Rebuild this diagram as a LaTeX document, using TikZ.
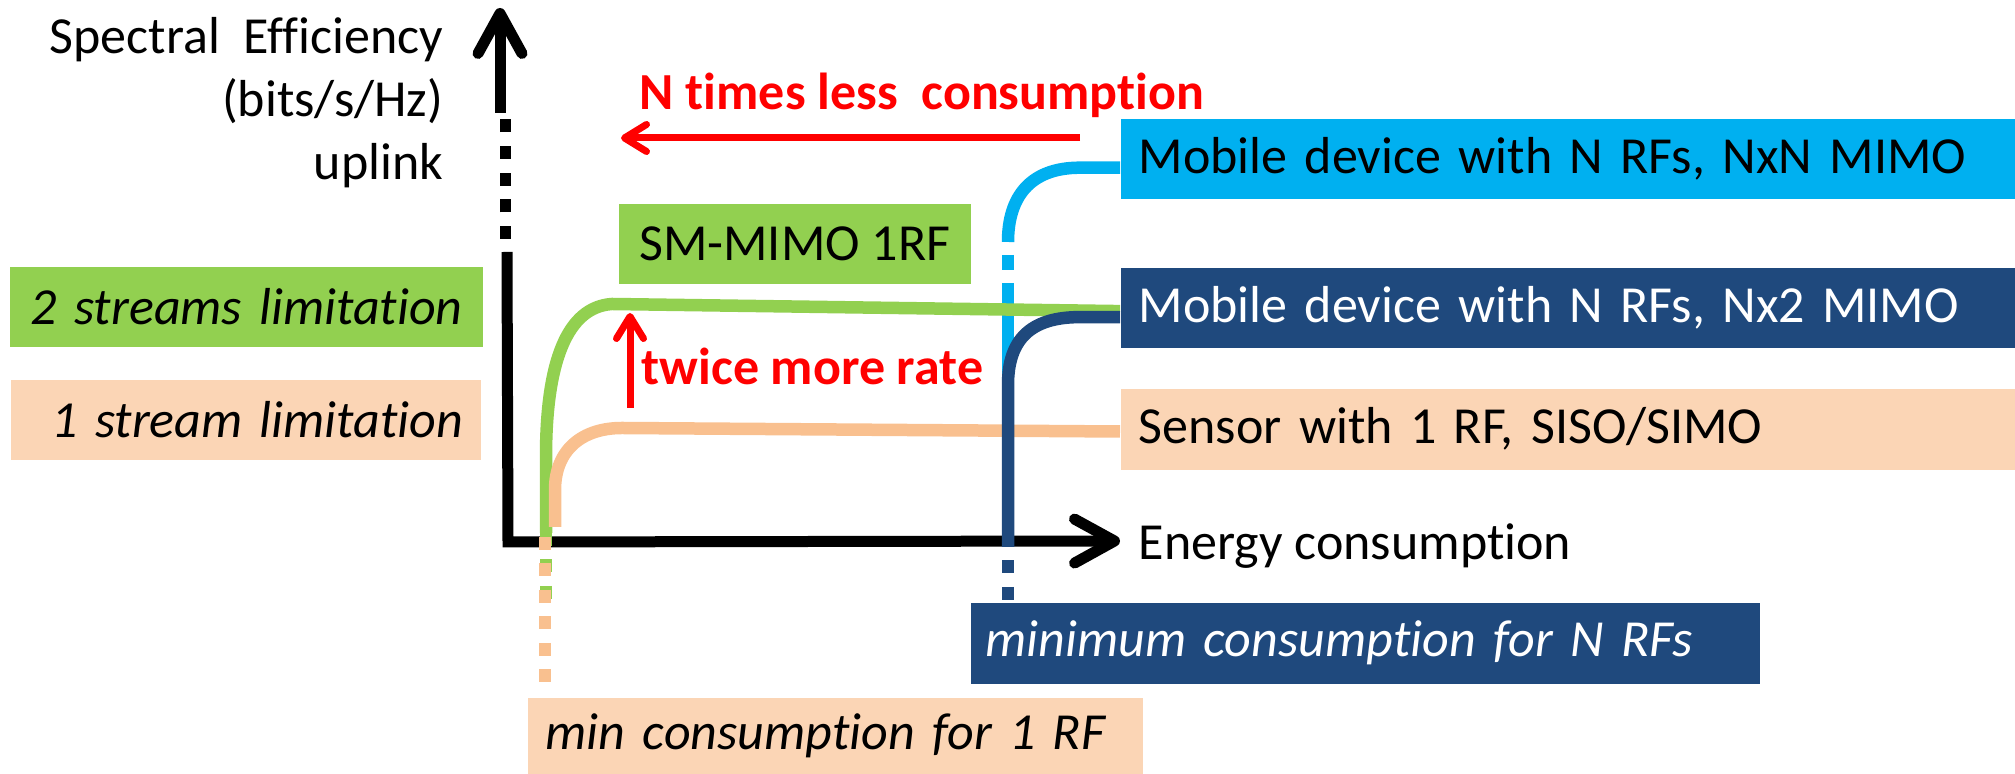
\documentclass[tikz,border=0pt]{standalone}
\usepackage{fontspec}
\setmainfont[Ligatures=NoCommon]{Carlito}
\usetikzlibrary{positioning, arrows.meta}
\definecolor{smgreen}{HTML}{92D050}
\definecolor{nxncyan}{HTML}{00B0F0}
\definecolor{rfblue}{HTML}{1F497D}
\definecolor{peachbox}{HTML}{FBD5B5}
\definecolor{peachline}{HTML}{F9C08F}
\newcommand{\lbl}{\fontsize{14.8}{18}\selectfont}

\begin{document}
\begin{tikzpicture}[x=0.1mm, y=-0.1mm, font=\lbl]
    % Define styles
    \tikzstyle{box} = [anchor=north west, inner xsep=1.8mm, inner ysep=0pt, minimum height=8mm, align=left]
    \tikzstyle{axis} = [line width=1.1mm, black]
    \tikzstyle{curve} = [line width=1.25mm]
    \tikzstyle{gapped} = [dash pattern=on 1.3mm off 1.35mm]
    \tikzstyle{note} = [text=red, font=\lbl\bfseries, inner sep=0pt]
    \tikzstyle{hint} = [red, line width=0.7mm, -{Straight Barb[length=2.2mm, width=2.7mm, round]}]
    \tikzstyle{tip} = [-{Straight Barb[length=4mm, width=4.4mm, round]}]
    \useasboundingbox (0,0) rectangle (2015,774);

    % Boxes
    \node [box, fill=nxncyan, text width=85.9mm] (nxn) at (1120,118) {Mobile device with N RFs, NxN MIMO};
    \node [box, fill=rfblue, text=white, text width=85.9mm, below=6.8mm of nxn] (nxtwo) {Mobile device with N RFs, Nx2 MIMO};
    \node [box, fill=peachbox, text width=85.9mm, minimum height=8.1mm, below=3.9mm of nxtwo] (sensor) {Sensor with 1 RF, SISO/SIMO};
    \node [box, fill=smgreen, minimum width=35.2mm] (smmimo) at (618,203) {SM-MIMO 1RF};
    \node [box, fill=smgreen, text width=43.3mm, align=right, inner xsep=2mm] (twostream) at (9,266) {\itshape 2 streams limitation};
    \node [box, fill=peachbox, text width=43.4mm, align=right, below=3.2mm of twostream] (onestream) {\itshape 1 stream limitation};
    \node [box, fill=rfblue, text=white, text width=75.9mm, inner xsep=1.5mm, minimum height=8.1mm] (minN) at (970,602) {\itshape minimum consumption for N RFs};
    \node [box, fill=peachbox, text width=57.9mm, minimum height=7.7mm] (minone) at (527,697) {\itshape min consumption for 1 RF};

    % Labels
    \node [anchor=base east, align=right, inner sep=0pt] (ylabel) at (444,180) {Spectral\ \ Efficiency\\(bits/s/Hz)\\uplink};
    \node [anchor=base west, inner sep=0pt] (xlabel) at (1138,560) {Energy consumption};
    \node [note, anchor=base west] (lesslbl) at (639,110) {N times less\ \ consumption};
    \node [note, anchor=base west] (ratelbl) at (641,385) {twice more rate};

    % Axes
    \coordinate (origin) at (508,542);
    \coordinate (ybreak) at (507,252);
    \coordinate (ydashlow) at (505,239);
    \coordinate (ydashtop) at (505,119);
    \coordinate (ytop) at (500,113);
    \coordinate (ytip) at (500,8);
    \coordinate (xtip) at (1120,541);
    \draw [axis, tip] (ybreak) -- (origin) -- (xtip);
    \draw [axis, dash pattern=on 1.3mm off 1.37mm] (ydashlow) -- (ydashtop);
    \draw [axis, tip] (ytop) -- (ytip);

    % Curves
    \coordinate (cyanbend) at (1008,242);
    \coordinate (cyanfoot) at (1008,377);
    \draw [curve, nxncyan] ([yshift=-0.9mm]nxn.west) -- ++(-40,0) .. controls +(-50,0) and +(0,-45) .. (cyanbend);
    \draw [curve, nxncyan, dash pattern=on 0pt off 1.3mm on 1.5mm off 1.3mm on 10mm] (cyanbend) -- (cyanfoot);

    \coordinate (greenfoot) at (546,533);
    \coordinate (greenend) at (546,600);
    \coordinate (greenbend) at (612,304);
    \draw [curve, smgreen, gapped] (greenfoot) -- (greenend);
    \draw [curve, smgreen] (greenfoot) -- (546,457) .. controls +(0,-95) and +(-45,3) .. (greenbend) -- ([yshift=-0.3mm]nxtwo.west);

    \coordinate (peachfoot) at (545,537);
    \coordinate (peachend) at (545,683);
    \coordinate (peachbend) at (622,428);
    \draw [curve, peachline, gapped] (peachfoot) -- (peachend);
    \draw [curve, peachline] ([yshift=-0.25mm]sensor.west) -- (peachbend) .. controls +(-40,0) and +(0,-40) .. (555,490) -- (555,527);

    \coordinate (nrfbend) at (1008,385);
    \coordinate (nrffoot) at (1008,547);
    \coordinate (nrfend) at (1008,600);
    \draw [curve, rfblue] ([yshift=-0.9mm]nxtwo.west) -- ++(-40,0) .. controls +(-50,0) and +(0,-45) .. (nrfbend) -- (nrffoot);
    \draw [curve, rfblue, dash pattern=on 0pt off 1.35mm on 1.3mm off 0pt] (nrffoot) -- (nrfend);

    % Red hints
    \coordinate (lessfrom) at (1080,138);
    \coordinate (lessto) at (621,138);
    \coordinate (ratefrom) at (630,408);
    \coordinate (rateto) at (630,313);
    \draw [hint] (lessfrom) -- (lessto);
    \draw [hint] (ratefrom) -- (rateto);
\end{tikzpicture}
\end{document}
